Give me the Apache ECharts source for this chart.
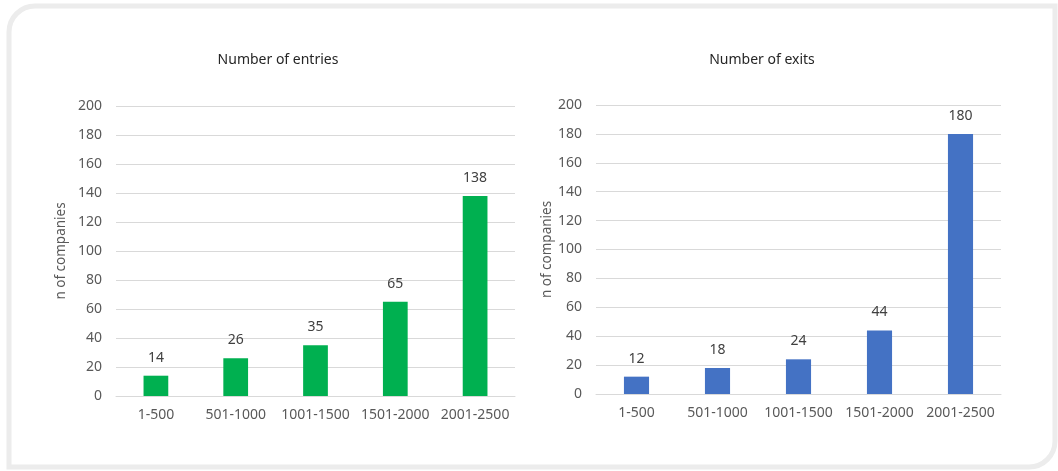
<!DOCTYPE html>
<html>
<head>
<meta charset="utf-8">
<script src="https://cdn.jsdelivr.net/npm/echarts@6/dist/echarts.min.js"></script>
<style>
html,body{margin:0;padding:0;background:#fff;}
#c{width:1058px;height:471px;}
</style>
</head>
<body>
<div id="c"></div>
<script>
const categories = ['1-500', '501-1000', '1001-1500', '1501-2000', '2001-2500'];
const entries = [14, 26, 35, 65, 138];
const exits = [12, 18, 24, 44, 180];
const titles = ['Number of entries', 'Number of exits'];
const yAxisName = 'n of companies';

const FONT = 'Noto Sans';
const chart = echarts.init(document.getElementById('c'));

function xAxis(i) {
  return {
    type: 'category', gridIndex: i, data: categories,
    axisLine: { lineStyle: { color: '#d9d9d9', width: 1 } },
    axisTick: { show: false },
    axisLabel: { interval: 0, hideOverlap: false, color: '#595959', fontSize: 14, fontFamily: FONT, margin: 12 }
  };
}
function yAxis(i, gap) {
  return {
    type: 'value', gridIndex: i, min: 0, max: 200, interval: 20,
    name: yAxisName, nameLocation: 'middle', nameGap: gap, nameRotate: 90,
    nameTextStyle: { color: '#595959', fontSize: 13.5, fontFamily: FONT },
    axisLine: { show: false }, axisTick: { show: false },
    axisLabel: { color: '#595959', fontSize: 14, fontFamily: FONT, margin: 14 },
    splitLine: { lineStyle: { color: '#d9d9d9', width: 1 } }
  };
}
function series(i, data, color) {
  return {
    type: 'bar', xAxisIndex: i, yAxisIndex: i, data: data,
    barWidth: '31%',
    itemStyle: { color: color },
    label: { show: true, position: 'top', distance: 11, color: '#404040', fontSize: 14, fontFamily: FONT }
  };
}

chart.setOption({
  animation: false,
  textStyle: { fontFamily: FONT },
  graphic: [
    { type: 'rect', shape: { x: 9, y: 6, width: 1046, height: 461, r: [26, 0, 26, 0] },
      style: { fill: 'none', stroke: '#ececec', lineWidth: 5 }, z: -1 },
    { type: 'text', x: 278, y: 60, style: { text: titles[0], textAlign: 'center', textVerticalAlign: 'middle', fill: '#262626', fontSize: 14, fontFamily: FONT } },
    { type: 'text', x: 762, y: 60, style: { text: titles[1], textAlign: 'center', textVerticalAlign: 'middle', fill: '#262626', fontSize: 14, fontFamily: FONT } }
  ],
  grid: [
    { left: 116, top: 106, width: 399, height: 290 },
    { left: 596, top: 105, width: 405, height: 289 }
  ],
  xAxis: [xAxis(0), xAxis(1)],
  yAxis: [yAxis(0, 48), yAxis(1, 42)],
  series: [series(0, entries, '#00b050'), series(1, exits, '#4472c4')]
});
</script>
</body>
</html>
